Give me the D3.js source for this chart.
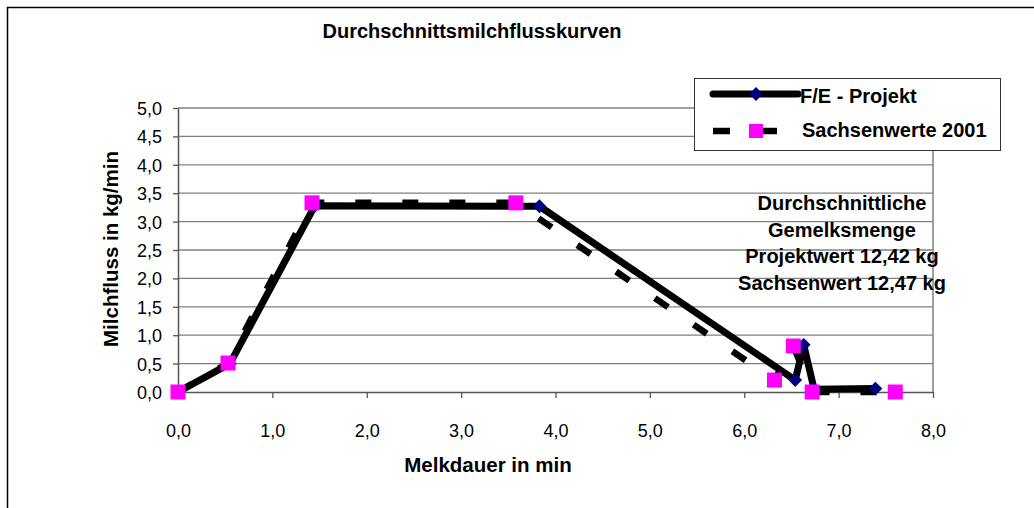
<!DOCTYPE html>
<html>
<head>
<meta charset="utf-8">
<script src="https://cdn.jsdelivr.net/npm/d3@7"></script>
<style>
  html, body { margin: 0; padding: 0; background: #fff; }
  svg { display: block; font-family: "Liberation Sans", Arial, sans-serif; }
</style>
</head>
<body>
<svg id="chart" width="1034" height="508"></svg>
<script>
// Milking time (min) and milk flow (kg/min)
const projektX = [0, 0.55, 1.45, 3.83, 6.54, 6.63, 6.74, 7.39];
const projektY = [0, 0.5, 3.28, 3.27, 0.21, 0.83, 0.05, 0.06];
const sachsenX = [0, 0.53, 1.42, 3.58, 6.32, 6.52, 6.72, 7.6];
const sachsenY = [0, 0.51, 3.33, 3.33, 0.21, 0.81, 0.0, 0.0];

const xTicks = [0, 1, 2, 3, 4, 5, 6, 7, 8];
const yTicks = [0, 0.5, 1, 1.5, 2, 2.5, 3, 3.5, 4, 4.5, 5];

const seriesNames = ["F/E - Projekt", "Sachsenwerte 2001"];
const noteLines = ["Durchschnittliche", "Gemelksmenge", "Projektwert 12,42 kg", "Sachsenwert 12,47 kg"];

const fmt = v => d3.format(".1f")(v).replace(".", ",");

const svg = d3.select("#chart");

// outer frame (top and left edges)
svg.append("path")
  .attr("d", "M7.5,508 V7.5 H1034")
  .attr("fill", "none").attr("stroke", "#000").attr("stroke-width", 1.5);

const x = d3.scaleLinear().domain([0, 8]).range([178, 933]);
const y = d3.scaleLinear().domain([0, 5]).range([392, 108]);

// horizontal gridlines
svg.append("g").selectAll("line").data(yTicks.filter(d => d > 0)).join("line")
  .attr("x1", x(0)).attr("x2", x(8))
  .attr("y1", d => y(d)).attr("y2", d => y(d))
  .attr("stroke", "#808080").attr("stroke-width", 1.3);

// right plot border
svg.append("line")
  .attr("x1", x(8)).attr("x2", x(8)).attr("y1", y(5)).attr("y2", y(0))
  .attr("stroke", "#808080").attr("stroke-width", 1.5);

// axes
const xAxis = d3.axisBottom(x).tickValues(xTicks).tickFormat(fmt).tickSize(6).tickSizeOuter(0);
const yAxis = d3.axisLeft(y).tickValues(yTicks).tickFormat(fmt).tickSize(5).tickSizeOuter(0).tickPadding(11);

const gx = svg.append("g").attr("transform", `translate(0,${y(0)})`).call(xAxis);
const gy = svg.append("g").attr("transform", `translate(${x(0)},0)`).call(yAxis);
[gx, gy].forEach(g => {
  g.select(".domain").attr("stroke", "#555").attr("stroke-width", 1.5);
  g.selectAll(".tick line").attr("stroke", "#555").attr("stroke-width", 1.3);
  g.selectAll(".tick text").attr("fill", "#000").style("font-size", "18px")
    .style("font-family", "'Liberation Sans', Arial, sans-serif");
});
gx.selectAll(".tick text").attr("y", 45).attr("dy", 0);
gy.selectAll(".tick text").attr("dy", "0.36em");

const line = d3.line().x(d => x(d[0])).y(d => y(d[1]));
const projekt = projektX.map((v, i) => [v, projektY[i]]);
const sachsen = sachsenX.map((v, i) => [v, sachsenY[i]]);

// Sachsenwerte: dashed line
svg.append("path").datum(sachsen)
  .attr("d", line).attr("fill", "none")
  .attr("stroke", "#000").attr("stroke-width", 6.5)
  .attr("stroke-dasharray", "16 31");

// F/E Projekt: solid line
svg.append("path").datum(projekt)
  .attr("d", line).attr("fill", "none")
  .attr("stroke", "#000").attr("stroke-width", 7)
  .attr("stroke-linejoin", "round");

const diamond = d3.symbol().type(d3.symbolSquare).size(95);

svg.append("g").selectAll("path").data(projekt).join("path")
  .attr("d", diamond)
  .attr("transform", d => `translate(${x(d[0])},${y(d[1])}) rotate(45)`)
  .attr("fill", "#000080");

svg.append("g").selectAll("rect").data(sachsen).join("rect")
  .attr("x", d => x(d[0]) - 7.5).attr("y", d => y(d[1]) - 7.5)
  .attr("width", 15).attr("height", 15)
  .attr("fill", "#ff00ff");

const bold = sel => sel.style("font-weight", "bold").style("font-size", "20px");

// title
svg.append("text").attr("x", 472).attr("y", 38).attr("text-anchor", "middle")
  .call(bold).text("Durchschnittsmilchflusskurven");

// axis titles
svg.append("text").attr("x", 488).attr("y", 472).attr("text-anchor", "middle")
  .call(bold).style("font-size", "20.5px").text("Melkdauer in min");

svg.append("text").attr("transform", "translate(118,249) rotate(-90)")
  .attr("text-anchor", "middle")
  .call(bold).style("font-size", "20.5px").text("Milchfluss in kg/min");

// annotation
svg.append("g").selectAll("text").data(noteLines).join("text")
  .attr("x", 842).attr("y", (d, i) => 210 + i * 26.7)
  .attr("text-anchor", "middle")
  .call(bold)
  .text(d => d);

// legend
const lg = svg.append("g");
lg.append("rect").attr("x", 694.5).attr("y", 78.5).attr("width", 306).attr("height", 72)
  .attr("fill", "#fff").attr("stroke", "#333").attr("stroke-width", 1);

lg.append("line").attr("x1", 713).attr("x2", 798).attr("y1", 94).attr("y2", 94)
  .attr("stroke", "#000").attr("stroke-width", 7).attr("stroke-linecap", "round");
lg.append("path").attr("d", diamond).attr("transform", "translate(756,94) rotate(45)").attr("fill", "#000080");
lg.append("text").attr("x", 800).attr("y", 103).call(bold).text(seriesNames[0]);

lg.append("line").attr("x1", 713).attr("x2", 798).attr("y1", 131).attr("y2", 131)
  .attr("stroke", "#000").attr("stroke-width", 6.5).attr("stroke-dasharray", "17 30");
lg.append("rect").attr("x", 749).attr("y", 124).attr("width", 14).attr("height", 14).attr("fill", "#ff00ff");
lg.append("text").attr("x", 802).attr("y", 137).call(bold).text(seriesNames[1]);
</script>
</body>
</html>
